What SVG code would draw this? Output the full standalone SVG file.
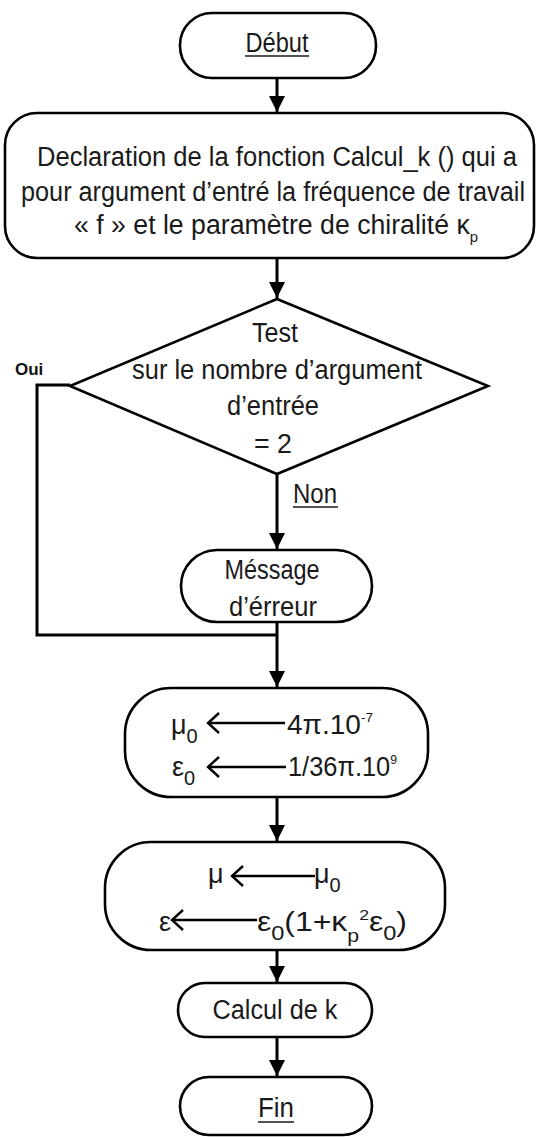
<svg xmlns="http://www.w3.org/2000/svg" width="539" height="1137" viewBox="0 0 539 1137">
  <style>
    .box { fill: #fff; stroke: #000; stroke-width: 2.6; }
    .wire { fill: none; stroke: #000; stroke-width: 3; }
    .thin { fill: none; stroke: #000; stroke-width: 2.4; }
    .t { font-family: "Liberation Sans", Arial, sans-serif; font-size: 27px; fill: #1a1a1a; }
    .c { text-anchor: middle; }
    .ul { stroke: #1a1a1a; stroke-width: 1.6; }
    .oui { font-family: "Liberation Sans", Arial, sans-serif; font-size: 17px; font-weight: bold; fill: #111; }
  </style>
  <defs>
    <marker id="head" markerUnits="userSpaceOnUse" markerWidth="16" markerHeight="18" refX="16" refY="8" orient="auto">
      <path d="M0,0 L16,8 L0,16 Z" fill="#000"/>
    </marker>
  </defs>

  <rect width="539" height="1137" fill="#fff"/>

  <!-- connectors -->
  <g id="connectors">
    <line class="wire" x1="277" y1="78" x2="277" y2="112" marker-end="url(#head)"/>
    <line class="wire" x1="277" y1="258" x2="277" y2="298" marker-end="url(#head)"/>
    <line class="wire" x1="277" y1="474" x2="277" y2="549" marker-end="url(#head)"/>
    <path class="wire" d="M70,385 H37 V635 H277"/>
    <line class="wire" x1="277" y1="622" x2="277" y2="687" marker-end="url(#head)"/>
    <line class="wire" x1="277" y1="797" x2="277" y2="841" marker-end="url(#head)"/>
    <line class="wire" x1="277" y1="950" x2="277" y2="982" marker-end="url(#head)"/>
    <line class="wire" x1="277" y1="1037" x2="277" y2="1076" marker-end="url(#head)"/>
    <text class="oui" x="15" y="375">Oui</text>
    <text class="t" x="293" y="503" textLength="44" lengthAdjust="spacingAndGlyphs">Non</text>
    <line class="ul" x1="293" y1="507" x2="338" y2="507"/>
  </g>

  <!-- start -->
  <g id="debut">
    <rect class="box" x="180" y="13" width="196" height="65" rx="32"/>
    <text class="t c" x="277" y="52" textLength="63" lengthAdjust="spacingAndGlyphs">Début</text>
    <line class="ul" x1="245" y1="56" x2="309" y2="56"/>
  </g>

  <!-- function declaration -->
  <g id="declaration">
    <rect class="box" x="5" y="113" width="529" height="145" rx="32"/>
    <text class="t c" x="277" y="166" textLength="480" lengthAdjust="spacingAndGlyphs">Declaration de la fonction Calcul_k () qui a</text>
    <text class="t c" x="273" y="201" textLength="504" lengthAdjust="spacingAndGlyphs">pour argument d’entré la fréquence de travail</text>
    <text class="t" x="74" y="234" textLength="404" lengthAdjust="spacingAndGlyphs">« f » et le paramètre de chiralité κ<tspan dy="8" font-size="15">p</tspan></text>
  </g>

  <!-- argument count test -->
  <g id="test">
    <polygon class="box" points="277,299 488,386 277,474 70,386"/>
    <text class="t c" x="275" y="342" textLength="46" lengthAdjust="spacingAndGlyphs">Test</text>
    <text class="t c" x="277" y="379" textLength="290" lengthAdjust="spacingAndGlyphs">sur le nombre d’argument</text>
    <text class="t c" x="273" y="415" textLength="92" lengthAdjust="spacingAndGlyphs">d’entrée</text>
    <text class="t c" x="273" y="453" textLength="38" lengthAdjust="spacingAndGlyphs">= 2</text>
  </g>

  <!-- error message -->
  <g id="erreur">
    <rect class="box" x="181" y="550" width="191" height="72" rx="36"/>
    <text class="t c" x="272" y="579" textLength="95" lengthAdjust="spacingAndGlyphs">Méssage</text>
    <text class="t c" x="273" y="616" textLength="88" lengthAdjust="spacingAndGlyphs">d’érreur</text>
  </g>

  <!-- vacuum constants -->
  <g id="constantes">
    <rect class="box" x="125" y="688" width="303" height="109" rx="46"/>
    <text class="t" x="171" y="734">μ<tspan dy="9" font-size="20">0</tspan></text>
    <line class="thin" x1="208" y1="723" x2="285" y2="723"/>
    <polyline class="thin" points="219,713 208,723 219,733"/>
    <text class="t" x="287" y="734" textLength="86" lengthAdjust="spacingAndGlyphs">4π.10<tspan dy="-12" font-size="13">-7</tspan></text>
    <text class="t" x="172" y="776">ε<tspan dy="9" font-size="20">0</tspan></text>
    <line class="thin" x1="208" y1="767" x2="286" y2="767"/>
    <polyline class="thin" points="219,757 208,767 219,777"/>
    <text class="t" x="288" y="776" textLength="109" lengthAdjust="spacingAndGlyphs">1/36π.10<tspan dy="-12" font-size="13">9</tspan></text>
  </g>

  <!-- chiral medium parameters -->
  <g id="milieu">
    <rect class="box" x="105" y="842" width="340" height="108" rx="46"/>
    <text class="t" x="208" y="883">μ</text>
    <line class="thin" x1="232" y1="876" x2="315" y2="876"/>
    <polyline class="thin" points="243,866 232,876 243,886"/>
    <text class="t" x="314" y="883">μ<tspan dy="9" font-size="20">0</tspan></text>
    <text class="t" x="159" y="931">ε</text>
    <line class="thin" x1="172" y1="920" x2="257" y2="920"/>
    <polyline class="thin" points="183,910 172,920 183,930"/>
    <text class="t" x="257" y="931" textLength="150" lengthAdjust="spacingAndGlyphs">ε<tspan dy="9" font-size="20">0</tspan><tspan dy="-9">(1+κ</tspan><tspan dy="11" font-size="18">p</tspan><tspan dy="-22" font-size="15">2</tspan><tspan dy="11">ε</tspan><tspan dy="9" font-size="20">0</tspan><tspan dy="-9">)</tspan></text>
  </g>

  <!-- k computation -->
  <g id="calcul">
    <rect class="box" x="178" y="983" width="194" height="54" rx="27"/>
    <text class="t c" x="275" y="1019" textLength="125" lengthAdjust="spacingAndGlyphs">Calcul de k</text>
  </g>

  <!-- end -->
  <g id="fin">
    <rect class="box" x="180" y="1077" width="192" height="58" rx="29"/>
    <text class="t c" x="276" y="1117" textLength="36" lengthAdjust="spacingAndGlyphs">Fin</text>
    <line class="ul" x1="258" y1="1122" x2="294" y2="1122"/>
  </g>
</svg>
